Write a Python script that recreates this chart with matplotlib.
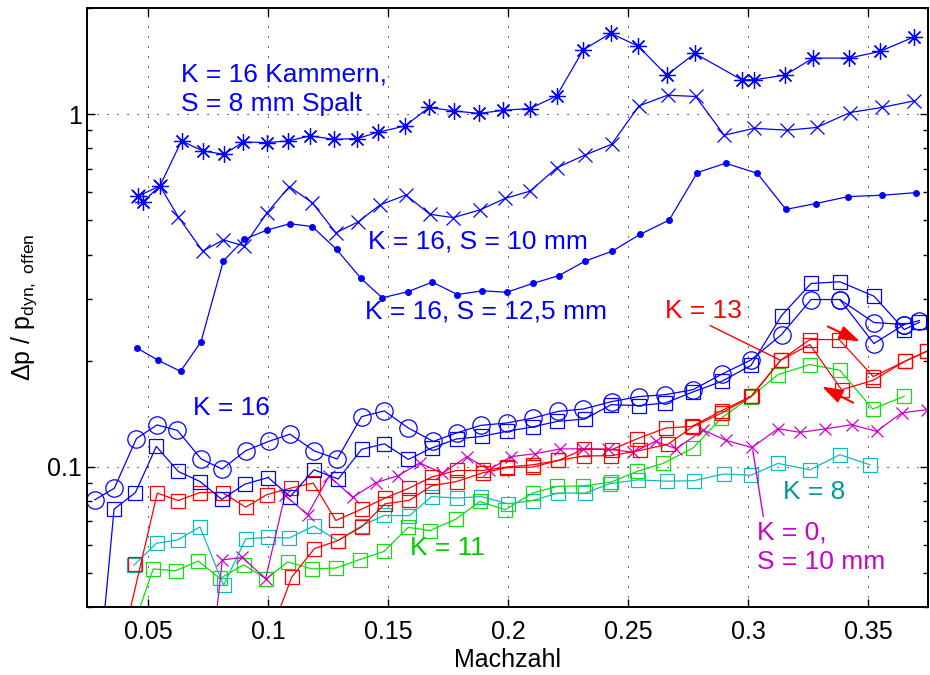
import matplotlib
matplotlib.use('Agg')
import matplotlib.pyplot as plt
from matplotlib.ticker import LogLocator, NullFormatter

# K = 16, S = 8 mm (asterisks)
k16_s8_mach = [0.0460, 0.0480, 0.0550, 0.0640, 0.0728, 0.0817, 0.0897, 0.0997, 0.1085, 0.1175,
               0.1275, 0.1373, 0.1458, 0.1571, 0.1671, 0.1775, 0.1879, 0.1980, 0.2092, 0.2203,
               0.2314, 0.2428, 0.2543, 0.2661, 0.2779, 0.2974, 0.3026, 0.3154, 0.3272, 0.3421,
               0.3550, 0.3693]
k16_s8 = [0.586, 0.565, 0.626, 0.840, 0.787, 0.770, 0.834, 0.831, 0.840, 0.868,
          0.849, 0.853, 0.889, 0.926, 1.045, 1.022, 1.005, 1.026, 1.038, 1.127,
          1.523, 1.696, 1.560, 1.291, 1.487, 1.252, 1.252, 1.291, 1.443, 1.443,
          1.507, 1.658]

# K = 16, S = 10 mm (x)
k16_s10_mach = [0.0460, 0.0550, 0.0626, 0.0728, 0.0814, 0.0901, 0.0995, 0.1089, 0.1185, 0.1283,
                0.1376, 0.1467, 0.1575, 0.1675, 0.1772, 0.1883, 0.1988, 0.2092, 0.2205, 0.2321,
                0.2432, 0.2546, 0.2665, 0.2782, 0.2901, 0.3026, 0.3164, 0.3286, 0.3425, 0.3557,
                0.3692]
k16_s10 = [0.586, 0.626, 0.512, 0.409, 0.440, 0.423, 0.524, 0.623, 0.561, 0.461,
           0.495, 0.553, 0.590, 0.520, 0.509, 0.535, 0.577, 0.605, 0.706, 0.766,
           0.822, 1.056, 1.132, 1.123, 0.872, 0.912, 0.901, 0.917, 1.011, 1.045,
           1.091]

# K = 16, S = 12,5 mm (dots)
k16_s125_mach = [0.0453, 0.0543, 0.0636, 0.0721, 0.0814, 0.0901, 0.0995, 0.1092, 0.1185, 0.1286,
                 0.1388, 0.1476, 0.1582, 0.1685, 0.1789, 0.1893, 0.1995, 0.2103, 0.2213, 0.2321,
                 0.2435, 0.2550, 0.2672, 0.2789, 0.2907, 0.3039, 0.3158, 0.3283, 0.3418, 0.3557,
                 0.3699]
k16_s125 = [0.2174, 0.2004, 0.1865, 0.2261, 0.383, 0.4415, 0.469, 0.489, 0.480, 0.4135,
            0.342, 0.3015, 0.3135, 0.334, 0.308, 0.3155, 0.3127, 0.331, 0.3487, 0.383,
            0.409, 0.456, 0.501, 0.683, 0.726, 0.680, 0.537, 0.558, 0.584, 0.589,
            0.599]

# K = 16, circles
k16_circ_mach = [0.0279, 0.0360, 0.0452, 0.0538, 0.0623, 0.0722, 0.0809, 0.0907, 0.1003, 0.1092,
                 0.1193, 0.1289, 0.1390, 0.1485, 0.1585, 0.1689, 0.1786, 0.1886, 0.1995, 0.2105,
                 0.2210, 0.2314, 0.2432, 0.2544, 0.2654, 0.2771, 0.2890, 0.3013, 0.3140, 0.3263,
                 0.3383, 0.3525, 0.3651, 0.3714]
k16_circ = [0.0806, 0.0869, 0.1202, 0.1314, 0.1268, 0.1052, 0.0985, 0.1110, 0.1180, 0.1237,
            0.1109, 0.1052, 0.1387, 0.1440, 0.1288, 0.1180, 0.1247, 0.1310, 0.1331, 0.1375,
            0.1436, 0.1458, 0.1530, 0.1581, 0.1601, 0.1654, 0.1829, 0.2009, 0.2371, 0.2981,
            0.2981, 0.2565, 0.2532, 0.2599]
k16_circ_back_mach = [0.3383, 0.3525, 0.3651]
k16_circ_back = [0.2981, 0.2236, 0.2532]

# K = 16, squares
k16_sq_mach = [0.0279, 0.0359, 0.0448, 0.0535, 0.0626, 0.0717, 0.0808, 0.0903, 0.1001, 0.1093,
               0.1192, 0.1293, 0.1390, 0.1485, 0.1585, 0.1682, 0.1786, 0.1890, 0.1995, 0.2103,
               0.2205, 0.2321, 0.2430, 0.2546, 0.2656, 0.2772, 0.2891, 0.3013, 0.3140, 0.3263,
               0.3383, 0.3525, 0.3651, 0.3714]
k16_sq = [0.0196, 0.0758, 0.0845, 0.1142, 0.0970, 0.0908, 0.0808, 0.0892, 0.0932, 0.0823,
          0.0980, 0.0923, 0.1120, 0.1162, 0.1049, 0.1130, 0.1199, 0.1219, 0.1260, 0.1297,
          0.1345, 0.1366, 0.1500, 0.1491, 0.1517, 0.1631, 0.1747, 0.1939, 0.2685, 0.3311,
          0.3348, 0.3047, 0.2450, 0.2570]

# K = 13, rising and falling Mach number
k13_up_mach = [0.0417, 0.0539, 0.0626, 0.0717, 0.0811, 0.0907, 0.0995, 0.1095, 0.1189, 0.1283,
               0.1390, 0.1488, 0.1589, 0.1682, 0.1786, 0.1895, 0.1995, 0.2104, 0.2210, 0.2317,
               0.2432, 0.2539, 0.2658, 0.2767, 0.2890, 0.3013, 0.3136, 0.3258, 0.3380, 0.3522,
               0.3654, 0.3745]
k13_up = [0.037, 0.0842, 0.0802, 0.0845, 0.0845, 0.0768, 0.0833, 0.0870, 0.0899, 0.0704,
          0.0758, 0.0815, 0.0870, 0.0935, 0.0976, 0.0976, 0.0998, 0.1013, 0.1042, 0.1123,
          0.1118, 0.1201, 0.1288, 0.1302, 0.1442, 0.1584, 0.2004, 0.2295, 0.2295, 0.1802,
          0.1991, 0.2126]
k13_down_mach = [0.1000, 0.1099, 0.1194, 0.1290, 0.1390, 0.1488, 0.1589, 0.1682, 0.1786, 0.1895,
                 0.1995, 0.2104, 0.2210, 0.2317, 0.2429, 0.2550, 0.2667, 0.2770, 0.2893, 0.3015,
                 0.3136, 0.3258, 0.3390, 0.3522, 0.3654, 0.3745]
k13_down = [0.0321, 0.0486, 0.0586, 0.0617, 0.0675, 0.0785, 0.0803, 0.0883, 0.0908, 0.0961,
            0.0994, 0.0998, 0.1042, 0.1073, 0.1075, 0.1112, 0.1159, 0.1299, 0.1423, 0.1584,
            0.2004, 0.2221, 0.1654, 0.1759, 0.1991, 0.2126]
k13_single_mach = [0.0446]
k13_single = [0.0530]

# K = 11
k11_mach = [0.0450, 0.0522, 0.0615, 0.0710, 0.0800, 0.0899, 0.0992, 0.1083, 0.1183, 0.1283,
            0.1382, 0.1483, 0.1585, 0.1675, 0.1783, 0.1883, 0.1988, 0.2103, 0.2203, 0.2314,
            0.2429, 0.2538, 0.2646, 0.2771, 0.2888, 0.3013, 0.3126, 0.3258, 0.3383, 0.3520,
            0.3651]
k11 = [0.037, 0.0513, 0.0507, 0.0540, 0.0482, 0.0527, 0.0481, 0.0537, 0.0513, 0.0516,
       0.0545, 0.0575, 0.0673, 0.0659, 0.0710, 0.0797, 0.0755, 0.0842, 0.0879, 0.0883,
       0.0904, 0.0970, 0.1022, 0.1130, 0.1371, 0.1581, 0.1826, 0.1949, 0.1878, 0.1458,
       0.1584]

# K = 8
k8_mach = [0.0442, 0.0536, 0.0624, 0.0717, 0.0815, 0.0908, 0.1001, 0.1089, 0.1191, 0.1291,
           0.1390, 0.1485, 0.1589, 0.1682, 0.1786, 0.1888, 0.2001, 0.2103, 0.2207, 0.2321,
           0.2425, 0.2540, 0.2661, 0.2775, 0.2899, 0.3013, 0.3125, 0.3258, 0.3383, 0.3508]
k8 = [0.0526, 0.0607, 0.0620, 0.0675, 0.0461, 0.0625, 0.0630, 0.0628, 0.0679, 0.0617,
      0.0680, 0.0728, 0.0726, 0.0823, 0.0815, 0.0823, 0.0785, 0.0802, 0.0842, 0.0842,
      0.0895, 0.0918, 0.0910, 0.0913, 0.0954, 0.0946, 0.1022, 0.0980, 0.1082, 0.1013]

# K = 0, S = 10 mm
k0_mach = [0.0775, 0.0810, 0.0894, 0.0990, 0.1071, 0.1165, 0.1255, 0.1353, 0.1450, 0.1543,
           0.1633, 0.1727, 0.1828, 0.1921, 0.2012, 0.2114, 0.2217, 0.2314, 0.2418, 0.2522,
           0.2615, 0.2701, 0.2814, 0.2908, 0.3017, 0.3125, 0.3217, 0.3321, 0.3432, 0.3536,
           0.3640, 0.3745]
k0 = [0.033, 0.0544, 0.0553, 0.0481, 0.0830, 0.0731, 0.0941, 0.0819, 0.0902, 0.0943,
      0.1026, 0.0957, 0.1068, 0.0980, 0.1068, 0.1089, 0.1123, 0.1125, 0.1122, 0.1100,
      0.1180, 0.1125, 0.1271, 0.1188, 0.1134, 0.1282, 0.1252, 0.1280, 0.1316, 0.1260,
      0.1421, 0.1452]

x_ticks = [0.05, 0.1, 0.15, 0.2, 0.25, 0.3, 0.35]
x_ticklabels = ['0.05', '0.1', '0.15', '0.2', '0.25', '0.3', '0.35']
y_ticks = [0.1, 1]
y_ticklabels = ['0.1', '1']

BLUE = '#0000ff'
RED = '#ff0000'
GREEN = '#11dd11'
CYAN = '#11bbbb'
MAGENTA = '#cc00cc'

plt.rcParams['font.family'] = ['Liberation Sans', 'DejaVu Sans']
plt.rcParams['mathtext.default'] = 'regular'

fig = plt.figure(figsize=(9.3, 6.75), dpi=100)
ax = fig.add_axes([0.0935, 0.1007, 0.9043, 0.8873])
ax.set_yscale('log')

lw = 0.9
sq = dict(marker='s', markersize=9.5, markerfacecolor='none', markeredgewidth=0.9, lw=lw)

ax.plot(k8_mach, k8, color=CYAN, **sq)
ax.plot(k11_mach, k11, color=GREEN, **sq)
ax.plot(k0_mach, k0, color=MAGENTA, marker='x', markersize=8.5, markeredgewidth=0.9, lw=lw)
ax.plot(k13_up_mach, k13_up, color=RED, **sq)
ax.plot(k13_down_mach, k13_down, color=RED, **sq)
ax.plot(k13_single_mach, k13_single, color=RED, ls='none', marker='s', markersize=9.5,
        markerfacecolor='none', markeredgewidth=0.9)
ax.plot(k16_sq_mach, k16_sq, color=BLUE, **sq)
ax.plot(k16_circ_mach, k16_circ, color=BLUE, marker='o', markersize=12.5,
        markerfacecolor='none', markeredgewidth=0.9, lw=lw)
ax.plot(k16_circ_back_mach, k16_circ_back, color=BLUE, marker='o', markersize=12.5,
        markerfacecolor='none', markeredgewidth=0.9, lw=lw)
ax.plot(k16_s125_mach, k16_s125, color=BLUE, marker='o', markersize=4, lw=lw)
ax.plot(k16_s10_mach, k16_s10, color=BLUE, marker='x', markersize=9.5, markeredgewidth=0.9, lw=lw)
ax.plot(k16_s8_mach, k16_s8, color=BLUE, marker=(8, 2, 0), markersize=12,
        markeredgewidth=0.9, lw=lw)

ax.set_xlim(0.0246, 0.375)
ax.set_ylim(0.04, 2.0)

ax.set_xticks(x_ticks, labels=x_ticklabels)
ax.set_yticks(y_ticks, labels=y_ticklabels)
ax.yaxis.set_minor_locator(LogLocator(base=10, subs=[2, 3, 4, 5, 6, 7, 8, 9]))
ax.yaxis.set_minor_formatter(NullFormatter())
ax.tick_params(which='both', direction='in', top=True, right=True, labelsize=18, width=1)
ax.tick_params(which='major', length=6)
ax.tick_params(which='minor', length=3.5)
ax.tick_params(axis='x', pad=9)
for s in ax.spines.values():
    s.set_linewidth(1.4)

ax.grid(True, which='major', color='k', linestyle=(0, (1, 8)), linewidth=0.8)
ax.set_axisbelow(True)

ax.set_xlabel('Machzahl', fontsize=18, labelpad=3)
ax.set_ylabel('Δp / p$_{dyn,\\ offen}$', fontsize=18, labelpad=6)

fs = 19
ax.text(0.0638, 1.299, 'K = 16 Kammern,', color=BLUE, fontsize=fs, va='center')
ax.text(0.0638, 1.067, 'S = 8 mm Spalt', color=BLUE, fontsize=fs, va='center')
ax.text(0.1417, 0.4357, 'K = 16, S = 10 mm', color=BLUE, fontsize=fs, va='center')
ax.text(0.1404, 0.2757, 'K = 16, S = 12,5 mm', color=BLUE, fontsize=fs, va='center')
ax.text(0.0688, 0.147, 'K = 16', color=BLUE, fontsize=fs, va='center')
ax.text(0.2654, 0.2757, 'K = 13', color=RED, fontsize=fs, va='center')
ax.text(0.1592, 0.0589, 'K = 11', color='#00cc00', fontsize=fs, va='center')
ax.text(0.3146, 0.0849, 'K = 8', color='#009999', fontsize=fs, va='center')
ax.text(0.3038, 0.0649, 'K = 0,', color=MAGENTA, fontsize=fs, va='center')
ax.text(0.3038, 0.0537, 'S = 10 mm', color=MAGENTA, fontsize=fs, va='center')

# leader lines from labels to curves
ax.annotate('', xy=(0.3136, 0.2004), xytext=(0.2842, 0.2516),
            arrowprops=dict(arrowstyle='-', color=RED, lw=1, shrinkA=0, shrinkB=0))
ax.annotate('', xy=(0.3020, 0.1115), xytext=(0.3064, 0.0722),
            arrowprops=dict(arrowstyle='-', color=MAGENTA, lw=1, shrinkA=0, shrinkB=0))

# direction arrows for the hysteresis loop
head = '-|>,head_length=0.9,head_width=0.3'
ax.annotate('', xy=(0.3467, 0.2265), xytext=(0.3333, 0.2499),
            arrowprops=dict(arrowstyle=head, color=RED, lw=1.5, mutation_scale=14,
                            shrinkA=0, shrinkB=0))
ax.annotate('', xy=(0.3308, 0.1688), xytext=(0.3438, 0.152),
            arrowprops=dict(arrowstyle=head, color=RED, lw=1.5, mutation_scale=14,
                            shrinkA=0, shrinkB=0))

fig.savefig('out.png', dpi=100)
